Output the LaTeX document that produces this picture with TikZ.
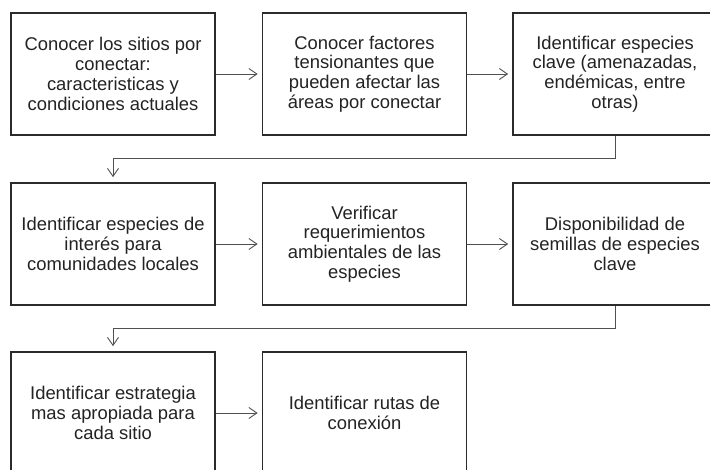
\documentclass[tikz,border=0pt]{standalone}
\usepackage{fontspec}
\setmainfont{Liberation Sans}
\usetikzlibrary{arrows.meta}
\definecolor{boxc}{HTML}{2B2B2B}
\definecolor{txt}{HTML}{232323}
\definecolor{linec}{HTML}{505050}
\tikzset{
  box/.style={draw=boxc, line width=1.7pt, fill=white, minimum width=204pt, minimum height=122pt,
    inner sep=0pt, align=center, text=txt, font=\fontsize{18.4}{19.8}\selectfont},
  conn/.style={draw=linec, line width=0.9pt, -{Straight Barb[length=8pt,width=11pt]}},
}
\begin{document}
\begin{tikzpicture}[x=1pt,y=-1pt]
\useasboundingbox (0,0) rectangle (710,469);
\clip (0,0) rectangle (710,469);
% row 1
\node[box] (b1) at (113,74) {Conocer los sitios por\\conectar:\\caracteristicas y\\condiciones actuales};
\node[box] (b2) at (364.5,74) {Conocer factores\\tensionantes que\\pueden afectar las\\áreas por conectar};
\node[box] (b3) at (615,74) {Identificar especies\\clave (amenazadas,\\endémicas, entre\\otras)};
% row 2
\node[box] (b4) at (113,244) {Identificar especies de\\interés para\\comunidades locales};
\node[box] (b5) at (364.5,244) {Verificar\\requerimientos\\ambientales de las\\especies};
\node[box] (b6) at (615,244) {Disponibilidad de\\semillas de especies\\clave};
% row 3
\node[box] (b7) at (113,413) {Identificar estrategia\\mas apropiada para\\cada sitio};
\node[box] (b8) at (364.5,413) {Identificar rutas de\\conexión};
% connectors
\draw[conn, shorten >=4pt] (b1.east) -- (b2.west);
\draw[conn, shorten >=4pt] (b2.east) -- (b3.west);
\draw[conn, shorten >=4pt] (b4.east) -- (b5.west);
\draw[conn, shorten >=4pt] (b5.east) -- (b6.west);
\draw[conn, shorten >=4pt] (b7.east) -- (b8.west);
\coordinate (t1) at (615,158);
\coordinate (t2) at (113,158);
\draw[conn, shorten >=5pt] (b3.south) -- (t1) -- (t2) -- (b4.north);
\coordinate (t3) at (615,328);
\coordinate (t4) at (113,328);
\draw[conn, shorten >=5pt] (b6.south) -- (t3) -- (t4) -- (b7.north);
\end{tikzpicture}
\end{document}
